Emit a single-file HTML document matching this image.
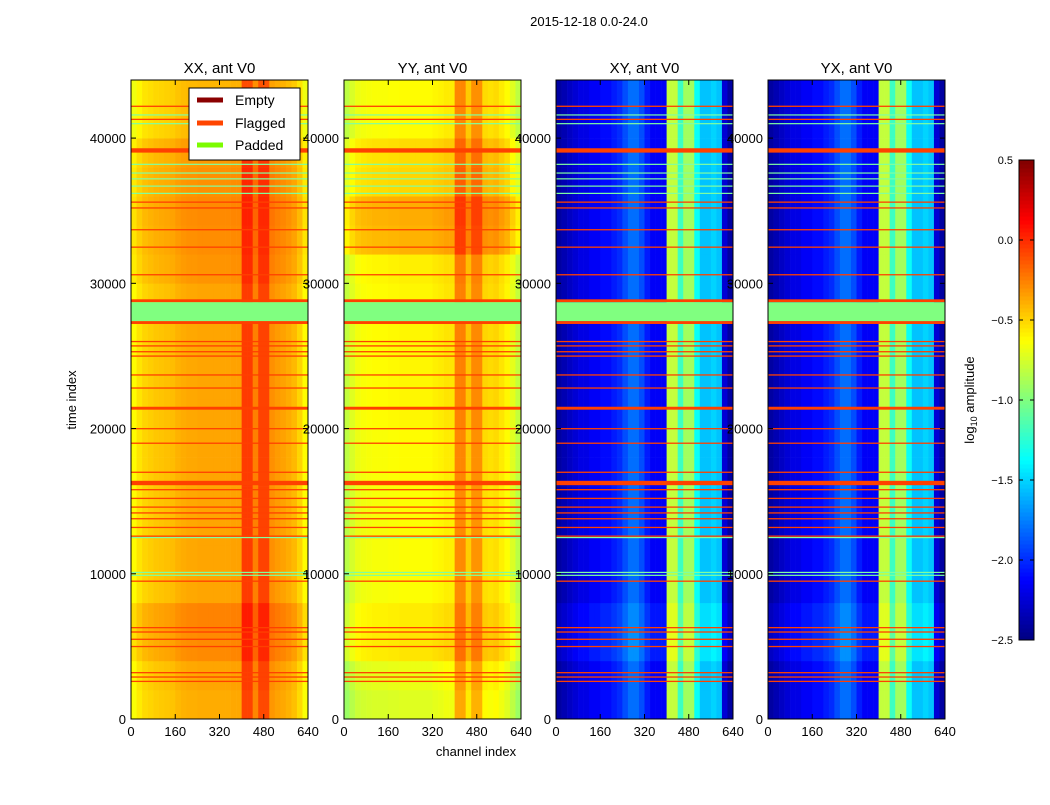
<!DOCTYPE html>
<html><head><meta charset="utf-8">
<style>
body{margin:0;background:#fff;font-family:"Liberation Sans",sans-serif;}
svg text{font-family:"Liberation Sans",sans-serif;}
</style></head>
<body>
<svg id="fig" width="1050" height="800" viewBox="0 0 1050 800" xmlns="http://www.w3.org/2000/svg">
<rect width="1050" height="800" fill="#fff"/>
<text x="589" y="26" font-size="13" text-anchor="middle">2015-12-18 0.0-24.0</text>
<text x="476" y="756" font-size="13" text-anchor="middle">channel index</text>
<text x="76" y="400" font-size="13" text-anchor="middle" transform="rotate(-90 76 400)">time index</text>
<g id="panels"></g>
<g id="cbar"></g>
<text x="974" y="400" font-size="13" text-anchor="middle" transform="rotate(-90 974 400)">log<tspan font-size="9" dy="3">10</tspan><tspan dy="-3"> amplitude</tspan></text>
<g>
<rect x="189" y="88" width="111" height="72" fill="#fff" stroke="#000" stroke-width="1"/>
<line x1="197" y1="100" x2="223" y2="100" stroke="#8b0000" stroke-width="5"/>
<text x="235" y="105" font-size="14">Empty</text>
<line x1="197" y1="123" x2="223" y2="123" stroke="#ff4500" stroke-width="5"/>
<text x="235" y="128" font-size="14">Flagged</text>
<line x1="197" y1="145" x2="223" y2="145" stroke="#7cfc00" stroke-width="5"/>
<text x="235" y="150" font-size="14">Padded</text>
</g>
</svg>
<script>
// ---- data ----
const panelTitles = ["XX, ant V0","YY, ant V0","XY, ant V0","YX, ant V0"];
const xTicks = [0,160,320,480,640];
const yTicks = [0,10000,20000,30000,40000];
const cbarTicks = [-2.5,-2.0,-1.5,-1.0,-0.5,0.0,0.5];
const cbarLabels = ["\u22122.5","\u22122.0","\u22121.5","\u22121.0","\u22120.5","0.0","0.5"];
// channel profile, 20 channels per bin (32 bins)
const chanXX = [-0.62,-0.55,-0.5,-0.48,-0.46,-0.45,-0.44,-0.43,-0.4,-0.38,-0.37,-0.37,-0.36,-0.36,-0.36,-0.36,-0.36,-0.36,-0.35,-0.35,-0.05,-0.05,-0.25,-0.07,-0.07,-0.3,-0.33,-0.35,-0.38,-0.42,-0.5,-0.62];
const chanYY = [-0.8,-0.72,-0.66,-0.64,-0.63,-0.62,-0.62,-0.62,-0.61,-0.61,-0.6,-0.6,-0.6,-0.6,-0.6,-0.6,-0.58,-0.57,-0.55,-0.55,-0.25,-0.25,-0.45,-0.28,-0.28,-0.5,-0.52,-0.5,-0.55,-0.6,-0.7,-0.8];
const chanXY = [-2.4,-2.35,-2.3,-2.25,-2.2,-2.2,-2.15,-2.15,-2.1,-2.1,-2.05,-2.0,-1.9,-1.8,-1.8,-1.9,-2.05,-2.15,-2.15,-2.15,-0.8,-0.8,-1.2,-0.9,-0.9,-1.35,-1.55,-1.55,-1.5,-1.55,-2.25,-2.4];
const chanYX = [-2.4,-2.35,-2.3,-2.25,-2.2,-2.2,-2.15,-2.15,-2.1,-2.1,-2.05,-2.0,-1.9,-1.8,-1.8,-1.9,-2.05,-2.15,-2.15,-2.15,-0.8,-0.8,-1.2,-0.9,-0.9,-1.35,-1.55,-1.55,-1.5,-1.55,-2.25,-2.4];
// time offsets, 2000 per bin (22 bins, 0..44000)
const timeXX = [-0.02,0,0.08,0.1,0,0,0,0,0,0,0,0,0,0,0,0.05,0.07,0.08,0.06,0.04,-0.05,-0.05];
const timeYY = [-0.12,-0.08,0.05,0.03,-0.03,-0.03,-0.03,-0.03,-0.02,-0.02,0,0,0,0,0,0.02,0.2,0.22,0.1,0.08,-0.02,-0.02];
const timeXY = [0,0,0.1,0.08,0,0,0,0,0,0,0,0,0,0,0,0,0,0,0,0,0,0];
const timeYX = [0,0,0.1,0.08,0,0,0,0,0,0,0,0,0,0,0,0,0,0,0,0,0,0];
// flagged time rows (thin) and thick flagged bands
const flagRows = [2600,2900,3200,5000,5500,6000,6300,9500,12600,13200,13800,14200,14600,15200,15800,17000,19000,20000,22800,23700,25000,25300,25700,26000,30600,32500,33700,35200,35600,41300,42200];
const flagBandStart = [16100,21300,27200,28700,39000];
const flagBandEnd = [16400,21500,27400,28900,39300];
const padStart = 27400, padEnd = 28700;
const padRows = [9900,10100,12500,36200,36700,37200,37600,38200,41000,41600];
// ---- drawing ----
const chans=[chanXX,chanYY,chanXY,chanYX], times=[timeXX,timeYY,timeXY,timeYX];
const panelX=[131,344,556,768], PW=177, Y0=719, Y1=80, TMAX=44000;
const NS="http://www.w3.org/2000/svg";
function el(tag,attrs,parent){const e=document.createElementNS(NS,tag);for(const k in attrs)e.setAttribute(k,attrs[k]);parent.appendChild(e);return e;}
function jet(v){let t=(v+2.5)/3;t=Math.max(0,Math.min(1,t));
 const r=Math.max(0,Math.min(1,Math.min(4*t-1.5,-4*t+4.5))),g=Math.max(0,Math.min(1,Math.min(4*t-0.5,-4*t+3.5))),b=Math.max(0,Math.min(1,Math.min(4*t+0.5,-4*t+2.5)));
 return `rgb(${Math.round(r*255)},${Math.round(g*255)},${Math.round(b*255)})`;}
function yS(t){return Y0-(t/TMAX)*(Y0-Y1);}
const root=document.getElementById('panels');
panelTitles.forEach((title,p)=>{
 const x0=panelX[p]; const xS=c=>x0+c/640*PW;
 const g=el('g',{},root);
 
 
 const ch=chans[p], tm=times[p];
 for(let ti=0;ti<tm.length;ti++){for(let ci=0;ci<ch.length;ci++){
  const r=el('rect',{x:xS(ci*20),y:yS((ti+1)*2000),width:PW/32+0.3,height:yS(ti*2000)-yS((ti+1)*2000)+0.3,fill:jet(ch[ci]+tm[ti])},g);
  
  
 }}
 padRows.forEach(t=>{const l=el('rect',{x:x0,y:yS(t)-0.5,width:PW,height:1.2,fill:'#80ffa0'},g);
  
  });
 flagRows.forEach(t=>{const l=el('rect',{x:x0,y:yS(t)-0.5,width:PW,height:1.3,fill:'#ff4000'},g);
  
  });
 flagBandStart.forEach((s,i)=>{const l=el('rect',{x:x0,y:yS(flagBandEnd[i]),width:PW,height:yS(s)-yS(flagBandEnd[i]),fill:'#ff4000'},g);
  
  });
 const pd=el('rect',{x:x0,y:yS(padEnd),width:PW,height:yS(padStart)-yS(padEnd),fill:'#80ff80'},g);
 
 
 const fr=el('rect',{x:x0,y:Y1,width:PW,height:Y0-Y1,fill:'none',stroke:'#000','stroke-width':1},g);
 
 
 const tt=el('text',{x:x0+PW/2,y:73,'font-size':15,'text-anchor':'middle'},g);tt.textContent=title;
 
 
 xTicks.forEach(v=>{const x=xS(v);
  el('line',{x1:x,y1:Y0,x2:x,y2:Y0-5,stroke:'#000'},g);el('line',{x1:x,y1:Y1,x2:x,y2:Y1+5,stroke:'#000'},g);
  const t=el('text',{x:x,y:736,'font-size':13,'text-anchor':'middle'},g);t.textContent=v;
  
  });
 yTicks.forEach(v=>{const y=yS(v);
  el('line',{x1:x0,y1:y,x2:x0+5,y2:y,stroke:'#000'},g);el('line',{x1:x0+PW,y1:y,x2:x0+PW-5,y2:y,stroke:'#000'},g);
  const t=el('text',{x:x0-5,y:y+5,'font-size':13,'text-anchor':'end'},g);t.textContent=v;
  
  });
});
// colorbar
const cb=document.getElementById('cbar');


const CB0=640,CB1=160,cbS=v=>CB0-(v+2.5)/3*(CB0-CB1);
for(let i=0;i<120;i++){const v=-2.5+3*i/120;
 el('rect',{x:1019,y:cbS(v+3/120),width:15,height:(CB0-CB1)/120+0.5,fill:jet(v+1.5/120)},cb);}
el('rect',{x:1019,y:CB1,width:15,height:CB0-CB1,fill:'none',stroke:'#000'},cb);
cbarTicks.forEach((v,i)=>{const y=cbS(v);
 el('line',{x1:1019,y1:y,x2:1023,y2:y,stroke:'#000'},cb);el('line',{x1:1034,y1:y,x2:1030,y2:y,stroke:'#000'},cb);
 const t=el('text',{x:1013,y:y+4,'font-size':11,'text-anchor':'end'},cb);t.textContent=cbarLabels[i];
 
 });
</script>
</body></html>
